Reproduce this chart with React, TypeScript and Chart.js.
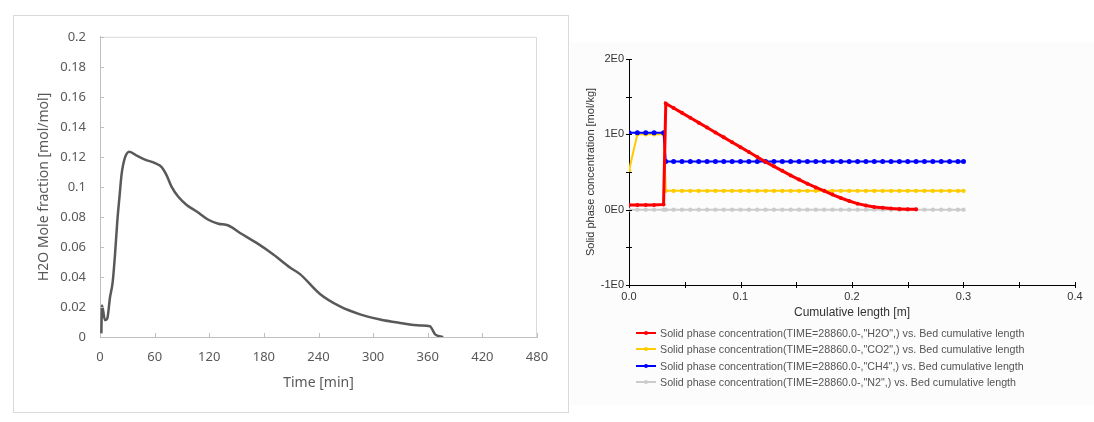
import React, { useEffect, useRef } from 'react';
import { Chart, registerables } from 'chart.js';

Chart.register(...registerables);

// ---------- Left chart data: H2O mole fraction vs time ----------
const timeMin = [1.5, 2.2, 5.5, 8, 11, 13.9, 16.5, 19, 21.5, 23.8, 27.5, 32.2, 40.3, 49.4, 60.4, 67.7, 73.2, 78.7, 86, 95.2, 106.2, 119, 130, 141, 153.8, 172, 190.4, 208.7, 219.7, 241.6, 263.6, 285.6, 307.6, 329.5, 351.5, 362.5, 365.4, 368, 371.6, 377];
const h2oFraction = [0.0024, 0.021, 0.0112, 0.0123, 0.0265, 0.0364, 0.055, 0.077, 0.094, 0.1088, 0.1197, 0.1235, 0.1209, 0.1182, 0.1158, 0.1132, 0.1077, 0.1, 0.0934, 0.088, 0.0836, 0.0781, 0.0755, 0.0743, 0.0693, 0.0627, 0.055, 0.0463, 0.0419, 0.0287, 0.0204, 0.0151, 0.0116, 0.0094, 0.0077, 0.0072, 0.0046, 0.0018, 0.0007, 0];

// ---------- Right chart data: solid phase concentration vs bed length ----------
const bedLength = [0, 0.0075, 0.015, 0.0225, 0.031, 0.033, 0.04, 0.0475, 0.055, 0.0625, 0.07, 0.0775, 0.085, 0.0925, 0.1, 0.1075, 0.115, 0.1225, 0.13, 0.1375, 0.145, 0.1525, 0.16, 0.1675, 0.175, 0.1825, 0.19, 0.1975, 0.205, 0.2125, 0.22, 0.2275, 0.235, 0.2425, 0.25, 0.2575, 0.265, 0.2725, 0.28, 0.2875, 0.295, 0.3];
const h2oSolid = [0.063, 0.063, 0.063, 0.063, 0.07, 1.41, 1.35, 1.285, 1.22, 1.155, 1.09, 1.025, 0.96, 0.895, 0.83, 0.765, 0.7, 0.635, 0.575, 0.515, 0.455, 0.4, 0.345, 0.295, 0.25, 0.2, 0.155, 0.115, 0.08, 0.055, 0.035, 0.025, 0.015, 0.01, 0.006, 0.004];
const co2Solid = [0.52, 1.0, 1.0, 1.0, 1.0, 0.25, 0.25, 0.25, 0.25, 0.25, 0.25, 0.25, 0.25, 0.25, 0.25, 0.25, 0.25, 0.25, 0.25, 0.25, 0.25, 0.25, 0.25, 0.25, 0.25, 0.25, 0.25, 0.25, 0.25, 0.25, 0.25, 0.25, 0.25, 0.25, 0.25, 0.25, 0.25, 0.25, 0.25, 0.25, 0.25, 0.25];
const ch4Solid = [1.02, 1.02, 1.02, 1.02, 1.02, 0.64, 0.64, 0.64, 0.64, 0.64, 0.64, 0.64, 0.64, 0.64, 0.64, 0.64, 0.64, 0.64, 0.64, 0.64, 0.64, 0.64, 0.64, 0.64, 0.64, 0.64, 0.64, 0.64, 0.64, 0.64, 0.64, 0.64, 0.64, 0.64, 0.64, 0.64, 0.64, 0.64, 0.64, 0.64, 0.64, 0.64];
const n2Solid = [0, 0, 0, 0, 0, 0, 0, 0, 0, 0, 0, 0, 0, 0, 0, 0, 0, 0, 0, 0, 0, 0, 0, 0, 0, 0, 0, 0, 0, 0, 0, 0, 0, 0, 0, 0, 0, 0, 0, 0, 0, 0];

const legendLabels = [
  'Solid phase concentration(TIME=28860.0-,"H2O",) vs. Bed cumulative length',
  'Solid phase concentration(TIME=28860.0-,"CO2",) vs. Bed cumulative length',
  'Solid phase concentration(TIME=28860.0-,"CH4",) vs. Bed cumulative length',
  'Solid phase concentration(TIME=28860.0-,"N2",) vs. Bed cumulative length',
];
const seriesColors = ['#ff0000', '#ffcc00', '#0000ff', '#cccccc'];

const pairs = (xs: number[], ys: number[]) => ys.map((y, i) => ({ x: xs[i], y }));

// plugin drawing tick marks (inside / crossing) and optional plot frame
const tickMarks = {
  id: 'tickMarks',
  afterDraw(chart: any, _args: any, opts: any) {
    const { ctx, chartArea } = chart;
    ctx.save();
    if (opts.frameColor) {
      ctx.strokeStyle = opts.frameColor;
      ctx.lineWidth = 1;
      ctx.beginPath();
      ctx.moveTo(chartArea.left, chartArea.top + 0.5);
      ctx.lineTo(chartArea.right - 0.5, chartArea.top + 0.5);
      ctx.lineTo(chartArea.right - 0.5, chartArea.bottom);
      ctx.stroke();
    }
    ctx.strokeStyle = opts.color;
    ctx.lineWidth = 1;
    const xs = chart.scales.x;
    const ys = chart.scales.y;
    ctx.beginPath();
    xs.ticks.forEach((t: any) => {
      const px = Math.round(xs.getPixelForValue(t.value)) + 0.5;
      ctx.moveTo(px, chartArea.bottom + opts.out);
      ctx.lineTo(px, chartArea.bottom - opts.inside);
    });
    ys.ticks.forEach((t: any) => {
      const py = Math.round(ys.getPixelForValue(t.value)) + 0.5;
      ctx.moveTo(chartArea.left - opts.out, py);
      ctx.lineTo(chartArea.left + opts.inside, py);
    });
    ctx.stroke();
    ctx.restore();
  },
};

function LeftChart() {
  const ref = useRef<HTMLCanvasElement>(null);
  useEffect(() => {
    const chart = new Chart(ref.current!, {
      type: 'line',
      data: {
        datasets: [
          {
            data: pairs(timeMin, h2oFraction),
            borderColor: '#595959',
            borderWidth: 2.5,
            pointRadius: 0,
            tension: 0.3,
            cubicInterpolationMode: 'monotone',
          },
        ],
      },
      options: {
        animation: false,
        responsive: false,
        layout: { padding: { left: 0, top: 18, right: 31, bottom: 0 } },
        plugins: {
          legend: { display: false },
          tooltip: { enabled: false },
          tickMarks: { color: '#bfbfbf', inside: 4, out: 0, frameColor: '#d9d9d9' },
        } as any,
        scales: {
          x: {
            type: 'linear',
            min: 0,
            max: 480,
            ticks: { stepSize: 60, color: '#595959', font: { family: 'Noto Sans', size: 13 }, padding: 12, maxRotation: 0 },
            grid: { display: false, drawTicks: false },
            border: { display: true, color: '#bfbfbf' },
            title: { display: true, text: 'Time [min]', color: '#595959', font: { family: 'Noto Sans', size: 14 }, padding: { top: 0, bottom: 21 } },
            afterFit: (s: any) => { s.height = 75; },
          },
          y: {
            type: 'linear',
            min: 0,
            max: 0.2,
            ticks: {
              stepSize: 0.02,
              color: '#595959',
              font: { family: 'Noto Sans', size: 13 },
              padding: 14,
              callback: (v: any) => String(Number(Number(v).toFixed(2))),
            },
            grid: { display: false, drawTicks: false },
            border: { display: true, color: '#bfbfbf' },
            title: { display: true, text: 'H2O Mole fraction [mol/mol]', color: '#595959', font: { family: 'Noto Sans', size: 14 }, padding: { top: 23, bottom: 0 } },
            afterFit: (s: any) => { s.width = 87; },
          },
        },
      },
      plugins: [tickMarks],
    } as any);
    return () => chart.destroy();
  }, []);
  return <canvas ref={ref} width={555} height={397} style={{ position: 'absolute', left: 13, top: 15, width: 555, height: 397 }} />;
}

function RightChart() {
  const ref = useRef<HTMLCanvasElement>(null);
  useEffect(() => {
    const mk = (vals: number[], i: number, radius: number, order: number) => ({
      label: legendLabels[i],
      data: pairs(bedLength, vals),
      borderColor: seriesColors[i],
      backgroundColor: seriesColors[i],
      pointBackgroundColor: seriesColors[i],
      pointBorderColor: seriesColors[i],
      borderWidth: i === 0 ? 3 : 2,
      pointRadius: radius,
      pointBorderWidth: 0,
      tension: 0,
      order,
    });
    const chart = new Chart(ref.current!, {
      type: 'line',
      data: {
        datasets: [
          mk(h2oSolid, 0, 2, 0),
          mk(co2Solid, 1, 2.2, 2),
          mk(ch4Solid, 2, 2.5, 1),
          mk(n2Solid, 3, 2.2, 3),
        ],
      },
      options: {
        animation: false,
        responsive: false,
        layout: { padding: { left: 0, top: 17, right: 19, bottom: 0 } },
        plugins: {
          legend: { display: false },
          tooltip: { enabled: false },
          tickMarks: { color: '#000000', inside: 3, out: 3 },
        } as any,
        scales: {
          x: {
            type: 'linear',
            min: 0,
            max: 0.4,
            ticks: {
              stepSize: 0.05,
              color: '#333333',
              font: { family: 'Liberation Sans', size: 11 },
              padding: 5,
              maxRotation: 0,
              autoSkip: false,
              callback: (v: any) => {
                const n = Number(v) * 10;
                return Math.abs(n - Math.round(n)) < 1e-6 ? (Math.round(n) / 10).toFixed(1) : '';
              },
            },
            grid: { display: false, drawTicks: false },
            border: { display: true, color: '#000000' },
            title: { display: true, text: 'Cumulative length [m]', color: '#333333', font: { family: 'Liberation Sans', size: 12 }, padding: { top: 0, bottom: 12 } },
            afterFit: (s: any) => { s.height = 47; },
          },
          y: {
            type: 'linear',
            min: -1,
            max: 2,
            ticks: {
              stepSize: 0.5,
              color: '#333333',
              font: { family: 'Liberation Sans', size: 11 },
              padding: 5,
              autoSkip: false,
              callback: (v: any) => {
                const n = Number(v);
                return Math.abs(n - Math.round(n)) < 1e-6 ? `${Math.round(n)}E0` : '';
              },
            },
            grid: { display: false, drawTicks: false },
            border: { display: true, color: '#000000' },
            title: { display: true, text: 'Solid phase concentration [mol/kg]', color: '#333333', font: { family: 'Liberation Sans', size: 11 }, padding: { top: 14, bottom: 0 } },
            afterFit: (s: any) => { s.width = 59; },
          },
        },
      },
      plugins: [tickMarks],
    } as any);
    return () => chart.destroy();
  }, []);
  return <canvas ref={ref} width={524} height={290} style={{ position: 'absolute', left: 570, top: 42, width: 524, height: 290 }} />;
}

function Legend() {
  const rowsY = [333, 349, 366, 382];
  return (
    <>
      {legendLabels.map((label, i) => (
        <div key={i} style={{ position: 'absolute', left: 636, top: rowsY[i] - 7, height: 14, display: 'flex', alignItems: 'center', whiteSpace: 'nowrap' }}>
          <div style={{ position: 'relative', width: 20, height: 14, marginRight: 4 }}>
            <div style={{ position: 'absolute', left: 0, top: 6, width: 20, height: 1.5, background: seriesColors[i] }} />
            <div style={{ position: 'absolute', left: 8, top: 5, width: 4, height: 4, borderRadius: 2, background: seriesColors[i] }} />
          </div>
          <span style={{ fontFamily: 'Liberation Sans', fontSize: 10.7, color: '#555555' }}>{label}</span>
        </div>
      ))}
    </>
  );
}

export default function App() {
  return (
    <div style={{ position: 'absolute', left: 0, top: 0, width: 1094, height: 422, background: '#ffffff', overflow: 'hidden' }}>
      <div style={{ position: 'absolute', left: 570, top: 42, width: 524, height: 363, background: '#fcfcfc' }} />
      <div style={{ position: 'absolute', left: 13, top: 15, width: 554, height: 396, border: '1px solid #d9d9d9' }} />
      <LeftChart />
      <RightChart />
      <Legend />
    </div>
  );
}
